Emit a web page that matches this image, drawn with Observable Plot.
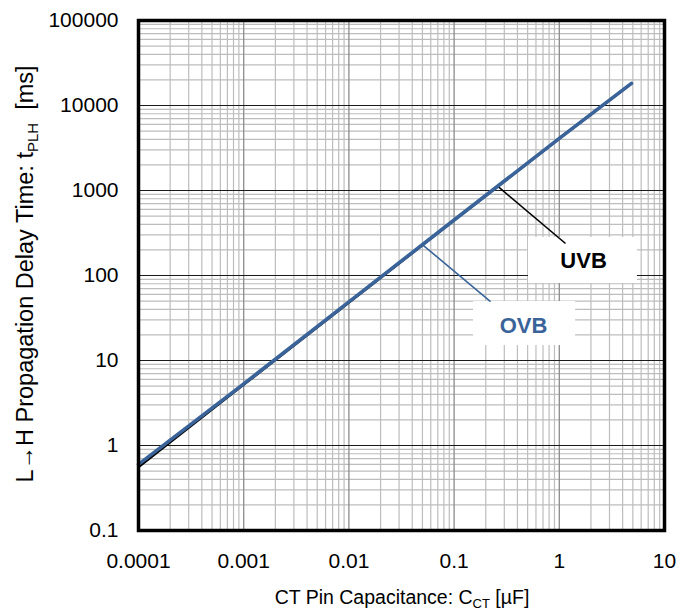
<!DOCTYPE html>
<html>
<head>
<meta charset="utf-8">
<script src="https://cdn.jsdelivr.net/npm/d3@7"></script>
<script src="https://cdn.jsdelivr.net/npm/@observablehq/plot@0.6"></script>
<style>
  body { margin: 0; background: #fff; }
  #chart svg { display: block; }
</style>
</head>
<body>
<div id="chart"></div>
<script>
// ---- data ----
const capacitance = [0.0001, 0.001, 0.01, 0.1, 1, 4.85];      // µF
const tUVB = [0.56, 5.2, 48, 445, 4080, 18100];                 // ms
const tOVB = [0.60, 5.3, 49, 450, 4100, 18200];                 // ms

const xTicks = [0.0001, 0.001, 0.01, 0.1, 1, 10];
const yTicks = [0.1, 1, 10, 100, 1000, 10000, 100000];

// annotation labels (data coordinates)
const labelNames = ["UVB", "OVB"];
const labelColors = ["#000000", "#3a6499"];
const labelAt = [[1.70, 150], [0.457, 25.8]];
const labelBox = [[0.509, 5.53, 80.5, 280], [0.153, 1.43, 15.0, 49.4]];
const leaderFrom = [[0.264, 1100], [0.0512, 225]];
const leaderTo = [[1.146, 238], [0.222, 49.4]];

// ---- derived tables ----
const rows = [];
capacitance.forEach((c, i) => {
  rows.push({series: "UVB", c, t: tUVB[i]});
  rows.push({series: "OVB", c, t: tOVB[i]});
});
const minorX = [], minorY = [];
for (let e = -4; e <= 0; e++) for (let m = 2; m <= 9; m++) minorX.push(m * Math.pow(10, e));
for (let e = -1; e <= 4; e++) for (let m = 2; m <= 9; m++) minorY.push(m * Math.pow(10, e));
const labels = labelNames.map((n, i) => ({
  name: n, color: labelColors[i],
  x: labelAt[i][0], y: labelAt[i][1],
  x1: labelBox[i][0], x2: labelBox[i][1], y1: labelBox[i][2], y2: labelBox[i][3],
  lx1: leaderFrom[i][0], ly1: leaderFrom[i][1], lx2: leaderTo[i][0], ly2: leaderTo[i][1]
}));

const font = "'Liberation Sans', Arial, sans-serif";
const W = 680, H = 613;
const chart = Plot.plot({
  width: W, height: H,
  marginLeft: 138, marginRight: 16, marginTop: 20, marginBottom: 83,
  style: {fontFamily: font, fontSize: "21px", color: "#000", background: "#fff"},
  x: {type: "log", domain: [0.0001, 10]},
  y: {type: "log", domain: [0.1, 100000]},
  marks: [
    Plot.ruleX(minorX, {stroke: "#bdbdbd", strokeWidth: 1.2}),
    Plot.ruleY(minorY, {stroke: "#bdbdbd", strokeWidth: 1.2}),
    Plot.ruleX(xTicks, {stroke: "#8c8c8c", strokeWidth: 1.3}),
    Plot.ruleY(yTicks, {stroke: "#1a1a1a", strokeWidth: 1.2}),
    Plot.rect(labels, {x1: "x1", x2: "x2", y1: "y1", y2: "y2", fill: "#fff"}),
    Plot.link(labels, {x1: "lx1", y1: "ly1", x2: "lx2", y2: "ly2", stroke: "color", strokeWidth: 1.6}),
    Plot.line(rows.filter(d => d.series === "UVB"), {x: "c", y: "t", stroke: "#000", strokeWidth: 2.5}),
    Plot.line(rows.filter(d => d.series === "OVB"), {x: "c", y: "t", stroke: "#3a6499", strokeWidth: 3.6}),
    Plot.text(labels, {x: "x", y: "y", text: "name", fill: "color", fontWeight: "bold", fontSize: 22, fontFamily: font}),
    Plot.frame({stroke: "#000", strokeWidth: 3.5}),
    Plot.axisX({ticks: xTicks, tickFormat: d => String(d), tickSize: 0, tickPadding: 23, label: null, fontSize: 21, fontFamily: font, fill: "#000"}),
    Plot.axisY({ticks: yTicks, tickFormat: d => String(d), tickSize: 0, tickPadding: 20, label: null, fontSize: 21, fontFamily: font, fill: "#000"})
  ]
});
document.getElementById("chart").appendChild(chart);

// axis titles with subscripts
const svg = d3.select(chart);
const xt = svg.append("text")
  .attr("x", 402).attr("y", 604)
  .attr("text-anchor", "middle")
  .style("font-family", font).style("font-size", "19.5px").attr("fill", "#000");
xt.append("tspan").text("CT Pin Capacitance: C");
xt.append("tspan").style("font-size", "13px").attr("dy", 4).text("CT");
xt.append("tspan").attr("dy", -4).text(" [µF]");

const yt = svg.append("text")
  .attr("transform", "translate(33,274) rotate(-90)")
  .attr("text-anchor", "middle")
  .style("font-family", font).style("font-size", "23.5px").attr("fill", "#000");
yt.append("tspan").text("L\u2192H Propagation Delay Time: t");
yt.append("tspan").style("font-size", "15px").attr("dy", 5).text("PLH");
yt.append("tspan").attr("dy", -5).text("  [ms]");
</script>
</body>
</html>
